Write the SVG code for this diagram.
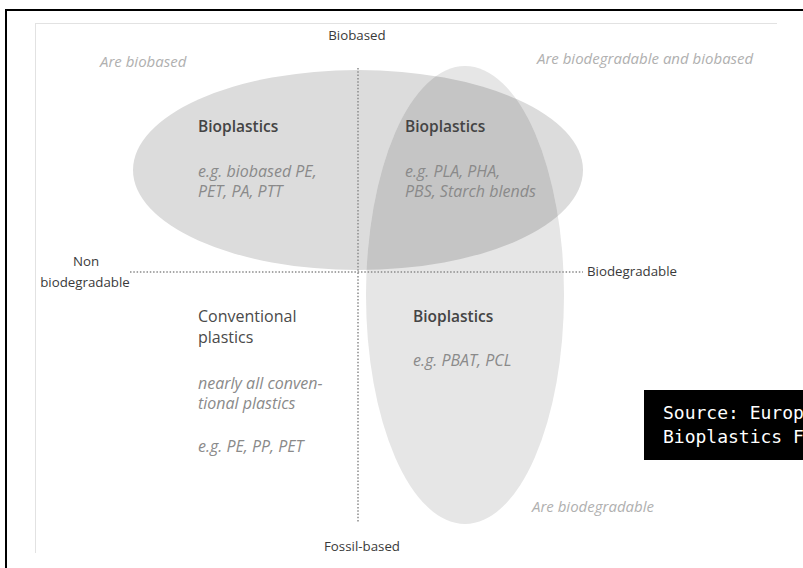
<svg xmlns="http://www.w3.org/2000/svg" width="803" height="568" viewBox="0 0 803 568">
<style>
.lbl{font-family:"Open Sans","Noto Sans",sans-serif;fill:#3a3a3a;font-size:13.3px}
.head{font-family:"Open Sans","Noto Sans",sans-serif;fill:#444;font-size:15.5px;font-weight:600}
.reg{font-family:"Open Sans","Noto Sans",sans-serif;fill:#4a4a4a;font-size:16px}
.ex{font-family:"Open Sans","Noto Sans",sans-serif;fill:#8a8a8a;font-size:16px;font-style:italic}
.cap{font-family:"Open Sans","Noto Sans",sans-serif;fill:#b0b0b0;font-size:15px;font-style:italic}
.src{font-family:"DejaVu Sans Mono","Liberation Mono",monospace;fill:#fff;font-size:18px}
.dot{stroke:#8a8a8a;stroke-width:1.5;stroke-dasharray:1.5 1.8;fill:none}
</style>
<defs>
<clipPath id="hclip"><ellipse cx="358" cy="170" rx="225" ry="100"/></clipPath>
</defs>
<rect x="0" y="0" width="803" height="568" fill="#fff"/>
<rect x="6" y="10" width="900" height="700" fill="#fff" stroke="#000" stroke-width="2"/>
<path d="M35 23.5H777M35.5 23V553" stroke="#e2e2e2" stroke-width="1" fill="none"/>
<g id="set-biobased"><ellipse cx="358" cy="170" rx="225" ry="100" fill="#dcdcdc"/></g>
<g id="set-biodegradable"><ellipse cx="465" cy="295" rx="99" ry="229" fill="#e6e6e6"/></g>
<g id="overlap"><ellipse cx="465" cy="295" rx="99" ry="229" fill="#c5c5c5" clip-path="url(#hclip)"/></g>
<g id="connectors">
<path class="dot" d="M358 68V523"/>
<path class="dot" d="M130 272H583"/>
</g>
<g id="axis-biobased"><text class="lbl" x="357" y="40" text-anchor="middle">Biobased</text></g>
<g id="axis-fossil"><text class="lbl" x="362" y="551" text-anchor="middle">Fossil-based</text></g>
<g id="axis-non"><text class="lbl" x="86" y="266" text-anchor="middle">Non</text><text class="lbl" x="85" y="287" text-anchor="middle">biodegradable</text></g>
<g id="axis-biodeg"><text class="lbl" x="587" y="276">Biodegradable</text></g>
<g id="cap1"><text class="cap" x="100" y="67">Are biobased</text></g>
<g id="cap2"><text class="cap" x="537" y="64">Are biodegradable and biobased</text></g>
<g id="cap3"><text class="cap" x="532" y="512">Are biodegradable</text></g>
<g id="q1"><text class="head" x="198" y="132">Bioplastics</text><text class="ex" x="198" y="177">e.g. biobased PE,</text><text class="ex" x="198" y="197">PET, PA, PTT</text></g>
<g id="q2"><text class="head" x="405" y="132">Bioplastics</text><text class="ex" x="405" y="177">e.g. PLA, PHA,</text><text class="ex" x="405" y="197">PBS, Starch blends</text></g>
<g id="q3"><text class="reg" x="198" y="322">Conventional</text><text class="reg" x="198" y="343">plastics</text><text class="ex" x="198" y="389">nearly all conven-</text><text class="ex" x="198" y="409">tional plastics</text><text class="ex" x="198" y="452">e.g. PE, PP, PET</text></g>
<g id="q4"><text class="head" x="413" y="322">Bioplastics</text><text class="ex" x="413" y="366">e.g. PBAT, PCL</text></g>
<g id="source"><rect x="644" y="390" width="170" height="70" fill="#000"/><text class="src" x="663" y="419">Source: Europ</text><text class="src" x="663" y="443">Bioplastics F</text></g>
</svg>
